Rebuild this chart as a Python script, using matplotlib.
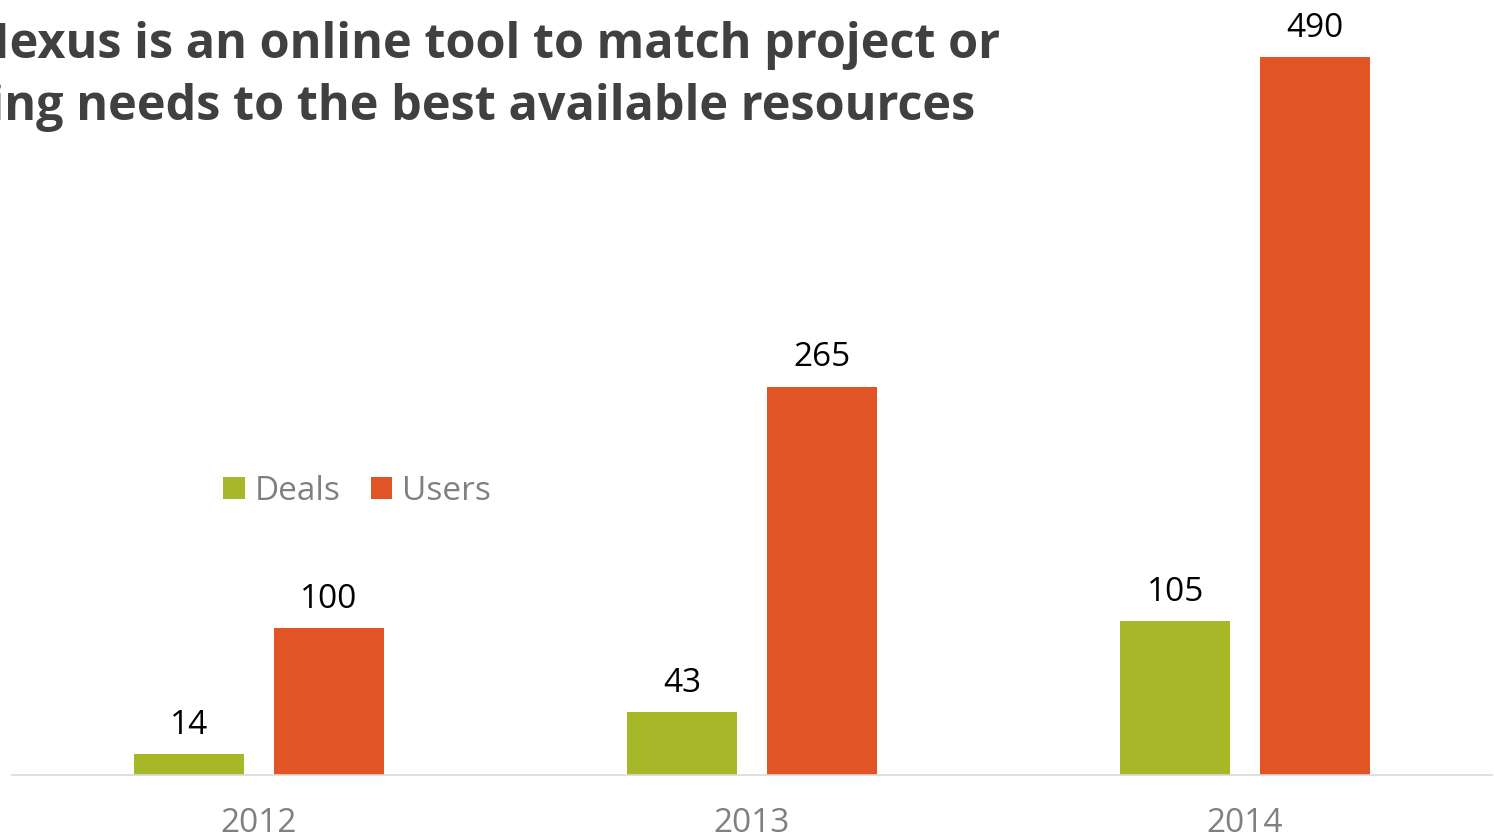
import numpy as np
import matplotlib.pyplot as plt

years = ['2012', '2013', '2014']
deals = [14, 43, 105]
users = [100, 265, 490]

title_1 = 'Nexus is an online tool to match project or'
title_2 = 'staffing needs to the best available resources'

green = '#A6B828'
orange = '#E05426'

plt.rcParams['font.family'] = ['Open Sans', 'DejaVu Sans']

fig = plt.figure(figsize=(14.94, 8.39), dpi=100)
W, H = 1494, 839
ax = fig.add_axes([12 / W, 64 / H, 1480 / W, 775 / H])

x = np.arange(len(years))
width = 0.223
off = 0.1415
b1 = ax.bar(x - off, deals, width, color=green, label='Deals')
b2 = ax.bar(x + off, users, width, color=orange, label='Users')

for bars in (b1, b2):
    for rect, v in zip(bars, bars.datavalues):
        ax.annotate(str(int(v)), (rect.get_x() + rect.get_width() / 2, v),
                    xytext=(0, 9), textcoords='offset points',
                    ha='center', va='bottom', fontsize=24, color='black')

ax.set_xlim(-0.501, 2.501)
ax.set_ylim(0, 529)
ax.set_xticks(x, years)
ax.tick_params(axis='x', length=0, pad=23, labelsize=24, labelcolor='#808080')
ax.set_yticks([])
for s in ('top', 'left', 'right'):
    ax.spines[s].set_visible(False)
ax.spines['bottom'].set_color('#D9D9D9')
ax.spines['bottom'].set_linewidth(1.2)

ax.legend(loc='center left', bbox_to_anchor=(223 / W, 1 - 491 / H),
          bbox_transform=fig.transFigure, ncol=2, frameon=False,
          fontsize=24, labelcolor='#808080', handlelength=0.65,
          handleheight=0.65, handletextpad=0.3, columnspacing=0.9,
          borderaxespad=0, borderpad=0)

fig.text(1000 / W, 1 - 58 / H, title_1, ha='right', va='baseline',
         fontsize=35, fontweight='bold', color='#404040')
fig.text(975 / W, 1 - 120 / H, title_2, ha='right', va='baseline',
         fontsize=35, fontweight='bold', color='#404040')

fig.savefig('out.png', dpi=100)
